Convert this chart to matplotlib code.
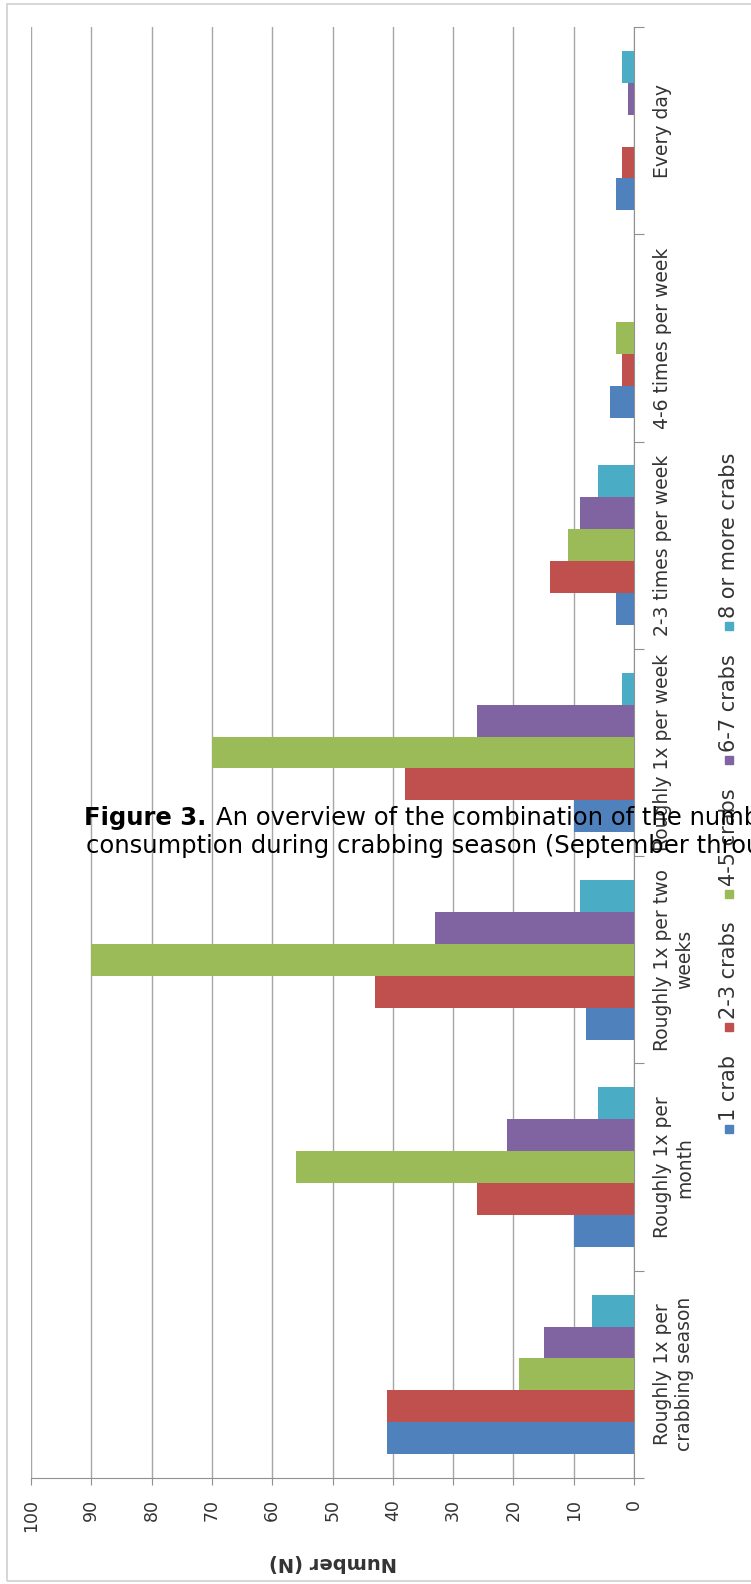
import matplotlib
matplotlib.use("Agg")
import matplotlib.pyplot as plt
import numpy as np
from matplotlib.patches import Rectangle

# frequency of eating crabs (bottom -> top in the rotated picture)
categories = ["Roughly 1x per\ncrabbing season", "Roughly 1x per\nmonth",
              "Roughly 1x per two\nweeks", "Roughly 1x per week",
              "2-3 times per week", "4-6 times per week", "Every day"]
series = ["1 crab", "2-3 crabs", "4-5 crabs", "6-7 crabs", "8 or more crabs"]
one_crab = [41, 10, 8, 10, 3, 4, 3]
two_three = [41, 26, 43, 38, 14, 2, 2]
four_five = [19, 56, 90, 70, 11, 3, 0]
six_seven = [15, 21, 33, 26, 9, 0, 1]
eight_plus = [7, 6, 9, 2, 6, 0, 2]
colors = ["#4F81BD", "#C0504D", "#9BBB59", "#8064A2", "#4BACC6"]
values = [one_crab, two_three, four_five, six_seven, eight_plus]

W, H = 751, 1584
fig = plt.figure(figsize=(W / 100, H / 100), dpi=100)
ax = fig.add_axes([31 / W, 1 - 1478 / H, (634 - 31) / W, (1478 - 27) / H])

y = np.arange(len(categories))
h = 1 / 6.5
for i, (vals, c) in enumerate(zip(values, colors)):
    ax.barh(y + (i - 2) * h, vals, height=h, color=c, zorder=3)

ax.set_xlim(100, 0)
ax.set_ylim(-0.5, len(categories) - 0.5)
ax.set_xticks(np.arange(0, 101, 10))
ax.set_xticklabels([str(v) for v in range(0, 101, 10)], rotation=90,
                   fontsize=12.5, color="#333333")
ax.tick_params(axis="x", length=5, color="#909090", pad=10)
ax.grid(axis="x", color="#a6a6a6", lw=1.0, zorder=0)

ax.yaxis.tick_right()
ax.set_yticks(np.arange(-0.5, len(categories), 1.0))
ax.set_yticklabels([])
ax.set_yticks(y, minor=True)
ax.set_yticklabels(categories, minor=True, rotation=90, fontsize=13.5,
                   color="#333333", va="center", ha="left", multialignment="center")
ax.tick_params(axis="y", which="major", length=7, color="#909090", right=True, left=False)
ax.tick_params(axis="y", which="minor", length=0, pad=13.5, right=True, left=False)

for s in ["top", "left"]:
    ax.spines[s].set_visible(False)
ax.spines["bottom"].set_color("#909090")
ax.spines["right"].set_color("#909090")

fig.text(333 / W, 1 - 1563 / H, "Number (N)", rotation=180, fontsize=14,
         fontweight="bold", color="#333333", ha="center", va="center")

# legend, written along the right side (reads bottom -> top)
# laid out from the top end of "8 or more crabs" downwards
fig.canvas.draw()
r = fig.canvas.get_renderer()
top = 453.0
for name, c in reversed(list(zip(series, colors))):
    t = fig.text(729 / W, 1 - top / H, name, rotation=90, fontsize=15,
                 color="#333333", ha="center", va="top")
    L = t.get_window_extent(r).height
    top += L + 4
    fig.patches.append(Rectangle((725 / W, 1 - (top + 8) / H), 8 / W, 8 / H,
                                 transform=fig.transFigure, color=c, figure=fig))
    top += 8 + 24

# caption pasted over the chart
fig.text(206 / W, 1 - 825 / H, "Figure 3.", fontsize=17.5, fontweight="bold",
         ha="right", va="baseline", color="black")
fig.text(216 / W, 1 - 825 / H, "An overview of the combination of the number",
         fontsize=17.5, ha="left", va="baseline", color="black")
fig.text(86 / W, 1 - 853 / H, "consumption during crabbing season (September through",
         fontsize=17.5, ha="left", va="baseline", color="black")

fig.patches.append(Rectangle((7 / W, 3 / H), 1.0, 1 - 7 / H, transform=fig.transFigure,
                             fill=False, edgecolor="#d0d0d0", lw=1.2, figure=fig))

fig.savefig("out.png", dpi=100)
